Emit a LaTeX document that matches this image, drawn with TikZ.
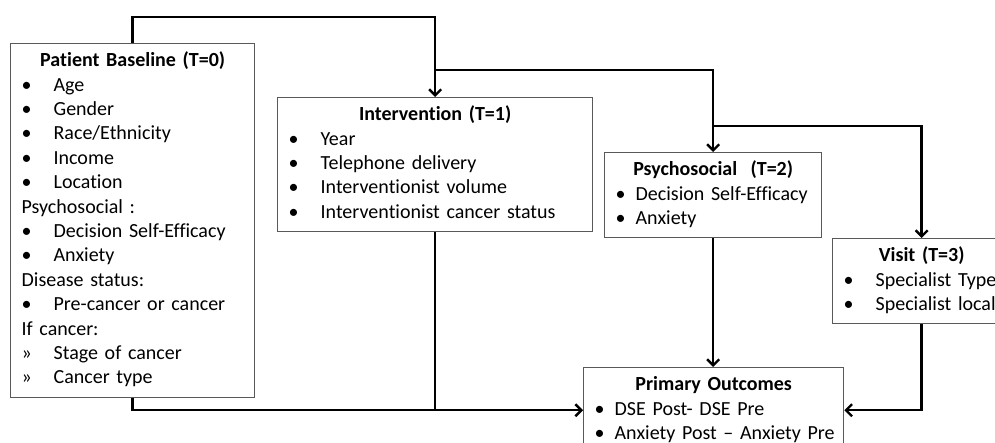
\documentclass[tikz,border=0pt]{standalone}
\usepackage{fontspec}
\setmainfont[Ligatures=NoCommon]{Carlito}
\usetikzlibrary{arrows.meta}
\setlength{\parindent}{0pt}

% box contents
\newcommand\boxtitle[1]{\makebox[\hsize]{\bfseries #1}\strut\par}
\newcommand\bitem[2][32pt]{\makebox[#1][l]{\textbullet}\mbox{#2}\strut\par}
\newcommand\gitem[1]{\makebox[32pt][l]{»}\mbox{#1}\strut\par}
\newcommand\heading[1]{#1\strut\par}

\begin{document}
\begin{tikzpicture}[x=1pt, y=-1pt,
    box/.style={draw=black!65, line width=1.3pt, rectangle, anchor=north west,
        inner xsep=11pt, inner ysep=6pt, align=left,
        font=\fontsize{20}{24.4}\selectfont},
    link/.style={line width=2.4pt},
    arr/.style={link, -{Straight Barb[length=6pt,width=12pt]}}]

    \clip (0,0) rectangle (995,443);
    \useasboundingbox (0,0) rectangle (995,443);

    % Boxes
    \node[box, text width=222pt] (base) at (10,43) {
        \boxtitle{Patient Baseline (T=0)}
        \bitem{Age}
        \bitem{Gender}
        \bitem{Race/Ethnicity}
        \bitem{Income}
        \bitem{Location}
        \heading{Psychosocial :}
        \bitem{Decision Self-Efficacy}
        \bitem{Anxiety}
        \heading{Disease status:}
        \bitem{Pre-cancer or cancer}
        \heading{If cancer:}
        \gitem{Stage of cancer}
        \gitem{Cancer type}};
    \node[box, text width=293pt] (interv) at (277,97) {
        \boxtitle{Intervention (T=1)}
        \bitem{Year}
        \bitem{Telephone delivery}
        \bitem{Interventionist volume}
        \bitem{Interventionist cancer status}};
    \node[box, text width=195pt] (psych) at (604,152) {
        \boxtitle{Psychosocial~~(T=2)}
        \bitem[20pt]{Decision Self-Efficacy}
        \bitem[20pt]{Anxiety}};
    \node[box, text width=156pt] (visit) at (832,238) {
        \boxtitle{Visit (T=3)}
        \bitem{Specialist Type}
        \bitem{Specialist local}};
    \node[box, text width=238pt] (out) at (583,367) {
        \boxtitle{Primary Outcomes}
        \bitem[20pt]{DSE Post- DSE Pre}
        \bitem[20pt]{Anxiety Post – Anxiety Pre}};

    % Branches along the top
    \coordinate (rowA) at (0,17);
    \coordinate (rowB) at (0,70);
    \coordinate (rowC) at (0,126);
    \draw[arr] (base.north) -- (base.north |- rowA) -| (interv.north);
    \draw[arr] (interv.north |- rowB) -| (psych.north);
    \draw[arr] (psych.north |- rowC) -| (visit.north);

    % Lines into the outcomes
    \draw[arr] (base.south) |- (out.west);
    \draw[link] (interv.south) -- (interv.south |- out.west);
    \draw[arr] (psych.south) -- (psych.south |- out.north);
    \draw[arr] (visit.south) |- (out.east);
\end{tikzpicture}
\end{document}
